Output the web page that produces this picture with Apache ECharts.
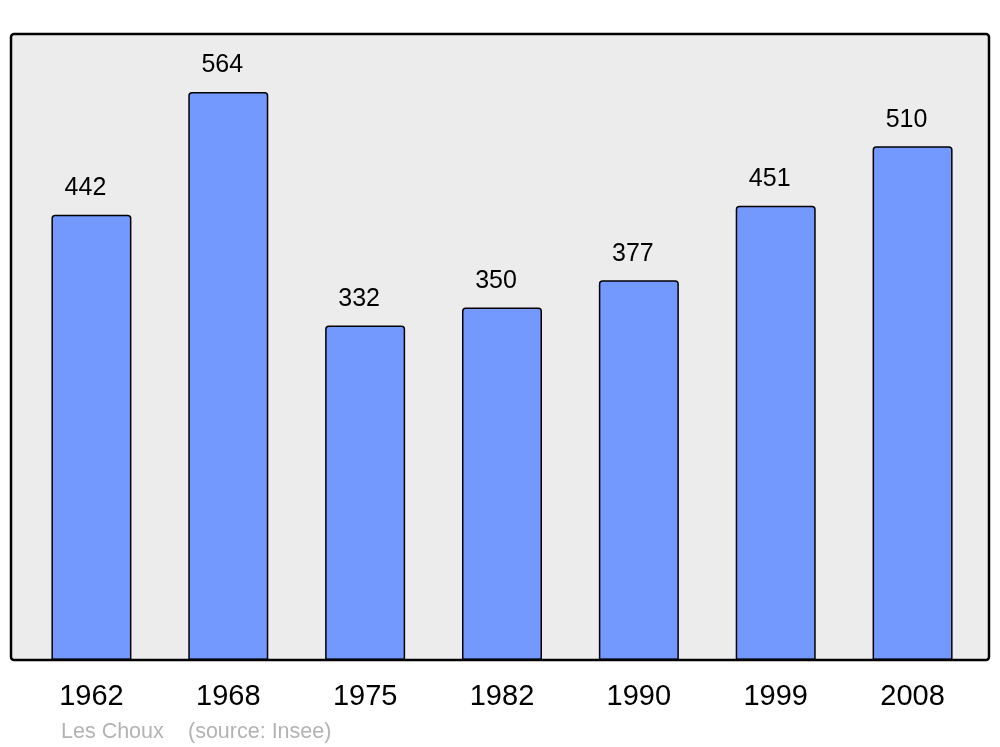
<!DOCTYPE html>
<html><head><meta charset="utf-8">
<script src="https://cdn.jsdelivr.net/npm/echarts@6/dist/echarts.min.js"></script>
<style>html,body{margin:0;padding:0;background:#fff}#c{width:1000px;height:747px}</style>
</head><body><div id="c"></div>
<script>
const years = ['1962','1968','1975','1982','1990','1999','2008'];
const population = [442, 564, 332, 350, 377, 451, 510];
const footerName = 'Les Choux';
const footerSource = '(source: Insee)';

const chart = echarts.init(document.getElementById('c'), null, {renderer:'canvas'});
chart.setOption({
  animation:false,
  backgroundColor:'#ffffff',
  textStyle:{fontFamily:'Liberation Sans, Arial, sans-serif'},
  grid:{left:23, right:19, top:34, bottom:87},
  xAxis:{type:'category', data:years, boundaryGap:true,
    axisLine:{show:false}, axisTick:{show:false}, splitLine:{show:false},
    axisLabel:{color:'#000', fontSize:29, margin:22, fontFamily:'Liberation Sans, Arial, sans-serif'}},
  yAxis:{type:'value', min:0, max:621.5, show:false, splitLine:{show:false}},
  graphic:[
    {type:'rect', z:-10, shape:{x:11,y:34,width:978,height:626,r:3}, style:{fill:'#ececec', stroke:null}},
    {type:'rect', z:100, shape:{x:11,y:34,width:978,height:626,r:3}, style:{fill:null, stroke:'#000', lineWidth:2.5}},
    {type:'text', left:61, top:721, style:{text:footerName, fill:'#b3b3b3', fontSize:21.5, fontFamily:'Liberation Sans, Arial, sans-serif'}},
    {type:'text', left:188, top:721, style:{text:footerSource, fill:'#b3b3b3', fontSize:21.5, fontFamily:'Liberation Sans, Arial, sans-serif'}}
  ],
  series:[{
    type:'bar', data:population, barWidth:80,
    itemStyle:{color:'#7399ff', borderColor:'#000', borderWidth:1.5, borderRadius:[3,3,0,0]},
    label:{show:true, position:'top', distance:14, offset:[-6,0], color:'#000', fontSize:25, fontFamily:'Liberation Sans, Arial, sans-serif'}
  }]
});
</script></body></html>
